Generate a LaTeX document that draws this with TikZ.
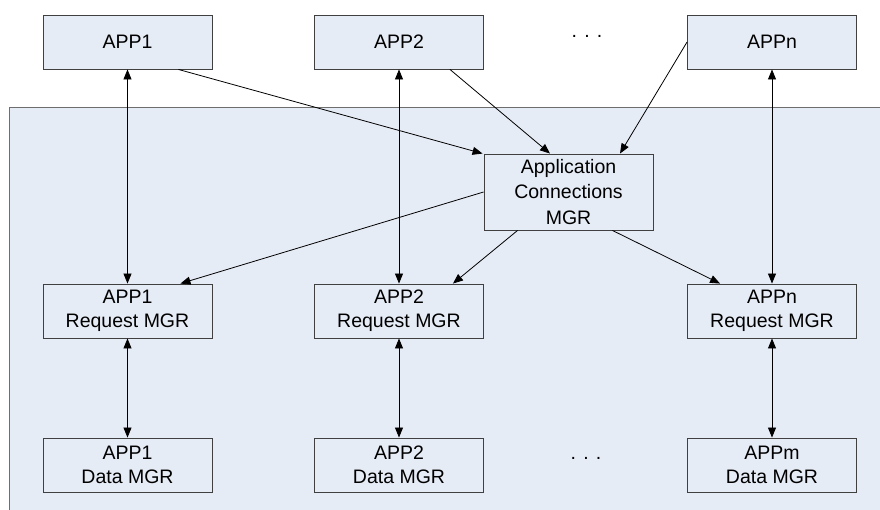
\documentclass[tikz,border=0pt]{standalone}
\usepackage{fontspec}
\setmainfont{Liberation Sans}
\usetikzlibrary{arrows.meta}
\definecolor{bgblue}{RGB}{230,236,246}
\definecolor{boxline}{RGB}{64,64,64}
\definecolor{bgline}{RGB}{110,110,110}
\tikzset{
  box/.style={draw=boxline, line width=0.9pt, fill=bgblue, minimum width=169pt, minimum height=54pt,
    inner sep=0pt, align=center, font=\fontsize{19.5}{24}\selectfont},
  bigbox/.style={box, minimum height=76pt, font=\fontsize{19.5}{25.5}\selectfont},
  conn/.style={draw=black, line width=0.8pt},
  arr/.style={conn, -{Triangle[length=10pt,width=8pt]}},
  darr/.style={conn, {Triangle[length=10pt,width=8pt]}-{Triangle[length=10pt,width=8pt]}},
  dots/.style={font=\fontsize{19.5}{24}\selectfont, inner sep=0pt}
}
\begin{document}
\begin{tikzpicture}[x=1pt,y=-1pt]
\useasboundingbox (0,0) rectangle (880,509);
\fill[white] (0,0) rectangle (880,509);
\draw[draw=bgline, line width=1pt, fill=bgblue] (9,107) rectangle (884,513);

\node[box] (top1) at (127.5,42) {APP1};
\node[box] (top2) at (399,42) {APP2};
\node[box] (topn) at (772,42) {APPn};
\node[dots] (dtop) at (587,36) {. . .};

\node[bigbox] (cm) at (568.5,192) {Application\\Connections\\MGR};

\node[box] (req1) at (127.5,311) {APP1\\Request MGR};
\node[box] (req2) at (399,311) {APP2\\Request MGR};
\node[box] (reqn) at (772,311) {APPn\\Request MGR};

\node[box] (dat1) at (127.5,465) {APP1\\Data MGR};
\node[box] (dat2) at (399,465) {APP2\\Data MGR};
\node[box] (datm) at (772,465) {APPm\\Data MGR};
\node[dots] (dbot) at (586,458) {. . .};

\draw[darr] (top1) -- (req1);
\draw[darr] (top2) -- (req2);
\draw[darr] (topn) -- (reqn);
\draw[darr] (req1) -- (dat1);
\draw[darr] (req2) -- (dat2);
\draw[darr] (reqn) -- (datm);

\draw[arr] ([xshift=-34pt]top1.south east) -- ([xshift=-1pt]cm.north west);
\draw[arr] ([xshift=-34pt]top2.south east) -- ([xshift=-18.5pt]cm.north);
\draw[arr] (topn.west) -- ([xshift=51.5pt]cm.north);
\draw[arr] (cm.west) -- ([xshift=-32pt]req1.north east);
\draw[arr] ([xshift=34pt]cm.south west) -- ([xshift=-31pt]req2.north east);
\draw[arr] ([xshift=-41pt]cm.south east) -- ([xshift=33pt]reqn.north west);
\end{tikzpicture}
\end{document}
